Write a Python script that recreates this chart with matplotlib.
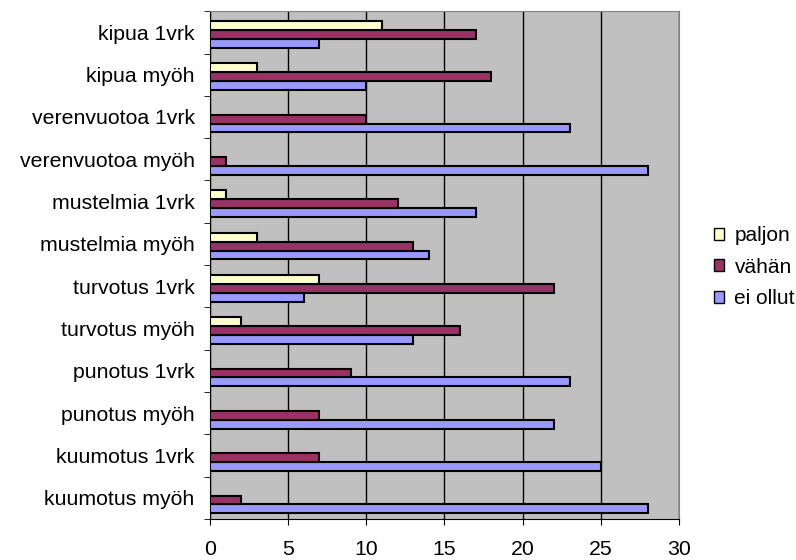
import numpy as np
import matplotlib.pyplot as plt
from matplotlib.patches import Patch

plt.rcParams['font.family'] = ['Liberation Sans', 'DejaVu Sans']

# luokat alhaalta ylös
categories = ['kuumotus myöh', 'kuumotus 1vrk', 'punotus myöh', 'punotus 1vrk',
              'turvotus myöh', 'turvotus 1vrk', 'mustelmia myöh', 'mustelmia 1vrk',
              'verenvuotoa myöh', 'verenvuotoa 1vrk', 'kipua myöh', 'kipua 1vrk']
paljon = [0, 0, 0, 0, 2, 7, 3, 1, 0, 0, 3, 11]
vahan = [2, 7, 7, 9, 16, 22, 13, 12, 1, 10, 18, 17]
ei_ollut = [28, 25, 22, 23, 13, 6, 14, 17, 28, 23, 10, 7]

series = [('ei ollut', ei_ollut, '#9999FF'),
          ('vähän', vahan, '#993366'),
          ('paljon', paljon, '#FFFFCC')]

fig = plt.figure(figsize=(7.96, 5.6), dpi=100)
ax = fig.add_axes([0.2638, 0.0732, 0.5892, 0.9068])
ax.set_facecolor('#C0C0C0')

y = np.arange(len(categories))
h = 0.21
for i, (name, vals, col) in enumerate(series):
    ax.barh(y + (i - 1) * h - 0.05, vals, height=h, color=col,
            edgecolor='black', linewidth=1.5, label=name, zorder=3)

ax.set_xlim(0, 30)
ax.set_ylim(-0.5, len(categories) - 0.5)
ax.set_xticks(range(0, 31, 5))
ax.set_yticks(y)
ax.set_yticklabels(categories)
ax.set_yticks(np.arange(-0.5, len(categories), 1), minor=True)
ax.tick_params(axis='y', which='major', length=0, pad=11, labelsize=15.3)
ax.tick_params(axis='y', which='minor', length=4, direction='out')
ax.tick_params(axis='x', length=4, direction='out', labelsize=15.3, pad=11)
ax.xaxis.grid(True, color='black', linewidth=1)
ax.set_axisbelow(True)

for s in ['top', 'right']:
    ax.spines[s].set_color('#808080')
for s in ['left', 'bottom']:
    ax.spines[s].set_color('black')

handles = [Patch(facecolor=c, edgecolor='black', label=n) for n, _, c in series[::-1]]
fig.legend(handles=handles, loc='center left', bbox_to_anchor=(0.897, 0.523),
           frameon=False, fontsize=15, handlelength=0.48, handleheight=0.48,
           handletextpad=0.5, labelspacing=0.6, borderpad=0, borderaxespad=0)

fig.savefig('out.png')
